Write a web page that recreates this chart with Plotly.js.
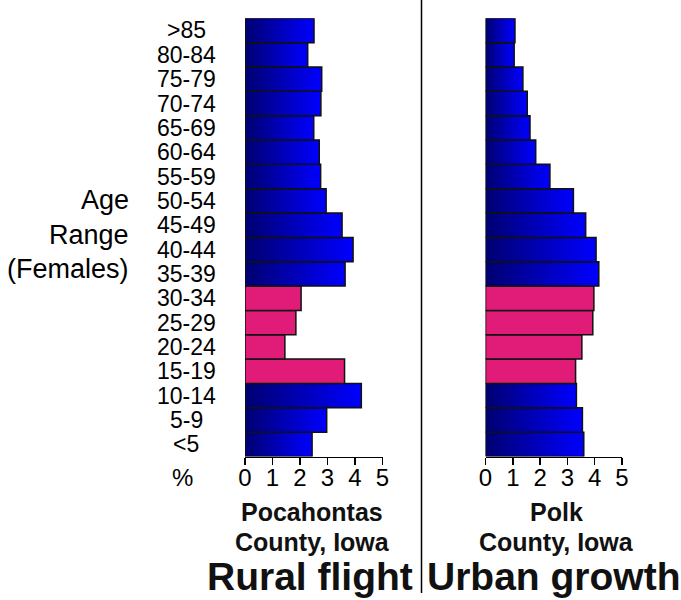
<!DOCTYPE html>
<html>
<head>
<meta charset="utf-8">
<script src="https://cdn.plot.ly/plotly-3.0.1.min.js"></script>
<style>
  html, body { margin: 0; padding: 0; background: #ffffff; }
  #chart { width: 681px; height: 600px; }
</style>
</head>
<body>
<div id="chart"></div>
<script>
// Age groups, youngest first (bottom of the pyramid)
const ageGroups = ['<5', '5-9', '10-14', '15-19', '20-24', '25-29', '30-34', '35-39',
  '40-44', '45-49', '50-54', '55-59', '60-64', '65-69', '70-74', '75-79', '80-84', '>85'];

// Share of the female population in each age group (%)
const pocahontasPct = [2.44, 2.97, 4.23, 3.62, 1.45, 1.85, 2.04, 3.64,
  3.93, 3.53, 2.95, 2.75, 2.70, 2.50, 2.76, 2.79, 2.28, 2.51];
const polkPct = [3.60, 3.55, 3.33, 3.30, 3.53, 3.93, 3.97, 4.15,
  4.05, 3.67, 3.22, 2.36, 1.84, 1.63, 1.53, 1.37, 1.05, 1.08];

// Groups of prime working / child-bearing age, drawn in pink
const highlighted = ['15-19', '20-24', '25-29', '30-34'];

const xTicks = [0, 1, 2, 3, 4, 5];

// Caption lines under each pyramid and the headline beneath them
const leftCaption = ['Pocahontas', 'County, Iowa'];
const rightCaption = ['Polk', 'County, Iowa'];
const leftHeadline = 'Rural flight';
const rightHeadline = 'Urban growth';
const axisTitleLines = ['Age', 'Range', '(Females)'];

const W = 681, H = 600;
const FONT = 'Liberation Sans, Arial, sans-serif';
const px = v => v / W;
const py = v => 1 - v / H;

const blueGradient = {
  type: 'horizontal',
  colorscale: [[0, '#000070'], [1, '#0000ff']]
};
const pink = '#e01b78';

// One filled rectangle per age group so each bar carries its own gradient
function barTraces(values, xa, ya) {
  return values.map((v, i) => {
    const isPink = highlighted.includes(ageGroups[i]);
    const t = {
      type: 'scatter',
      mode: 'lines',
      x: [0, v, v, 0, 0],
      y: [i - 0.5, i - 0.5, i + 0.5, i + 0.5, i - 0.5],
      xaxis: xa,
      yaxis: ya,
      fill: 'toself',
      line: { color: '#111111', width: 1.5 },
      hoverinfo: 'skip',
      showlegend: false
    };
    if (isPink) {
      t.fillcolor = pink;
    } else {
      t.fillgradient = blueGradient;
    }
    return t;
  });
}

const data = [].concat(
  barTraces(pocahontasPct, 'x', 'y'),
  barTraces(polkPct, 'x2', 'y2')
);

const plotTop = 18.3, plotBottom = 456.5;

const xAxisBase = {
  range: [0, 5],
  tickvals: xTicks,
  ticktext: xTicks.map(String),
  ticks: 'outside',
  ticklen: 7,
  tickwidth: 1.5,
  tickcolor: '#000',
  ticklabelstandoff: -8,
  showline: true,
  linewidth: 1.5,
  linecolor: '#000',
  showgrid: false,
  zeroline: false,
  fixedrange: true,
  tickfont: { family: FONT, size: 24, color: '#000' }
};
const yAxisBase = {
  range: [-0.5, ageGroups.length - 0.5],
  domain: [py(plotBottom), py(plotTop)],
  visible: false,
  showgrid: false,
  zeroline: false,
  fixedrange: true
};

const annotations = [];
const label = (text, x, y, size, opts) => Object.assign({
  text: text, xref: 'paper', yref: 'paper', x: px(x), y: py(y),
  xanchor: 'center', yanchor: 'middle', showarrow: false,
  font: { family: FONT, size: size, color: '#000' }
}, opts || {});

// Age group labels beside the left pyramid
ageGroups.forEach((g, i) => {
  annotations.push({
    text: g, xref: 'paper', yref: 'y', x: px(186), y: i,
    xanchor: 'center', yanchor: 'middle', showarrow: false,
    font: { family: FONT, size: 23, color: '#000' }
  });
});

// Vertical axis title, right-aligned, one line per annotation
axisTitleLines.forEach((t, k) => {
  annotations.push(label(t, 131, 200 + k * 34.5, 27, { xanchor: 'right' }));
});

annotations.push(label('%', 182, 477, 24));

// County captions
[[leftCaption, 312], [rightCaption, 556]].forEach(([lines, cx]) => {
  lines.forEach((t, k) => {
    annotations.push(label('<b>' + t + '</b>', cx, 512 + k * 30, 25,
      { font: { family: FONT, size: 25, color: '#111' } }));
  });
});

// Headlines
annotations.push(
  label('<b>' + leftHeadline + '</b>', 310, 576, 39, { font: { family: FONT, size: 39, color: '#111' } }),
  label('<b>' + rightHeadline + '</b>', 553, 576, 39, { font: { family: FONT, size: 39, color: '#111' } })
);

const layout = {
  width: W,
  height: H,
  margin: { l: 0, r: 0, t: 0, b: 0, pad: 0 },
  paper_bgcolor: '#ffffff',
  plot_bgcolor: 'rgba(0,0,0,0)',
  showlegend: false,
  xaxis: Object.assign({}, xAxisBase, { domain: [px(245), px(382.5)], anchor: 'y' }),
  yaxis: Object.assign({}, yAxisBase, { anchor: 'x' }),
  xaxis2: Object.assign({}, xAxisBase, { domain: [px(485.5), px(622)], anchor: 'y2' }),
  yaxis2: Object.assign({}, yAxisBase, { anchor: 'x2' }),
  annotations: annotations,
  shapes: [{
    type: 'line', xref: 'paper', yref: 'paper',
    x0: px(421.5), x1: px(421.5), y0: 1, y1: py(593),
    line: { color: '#000', width: 1.5 }
  }]
};

Plotly.newPlot('chart', data, layout, { staticPlot: true, displayModeBar: false });
</script>
</body>
</html>
